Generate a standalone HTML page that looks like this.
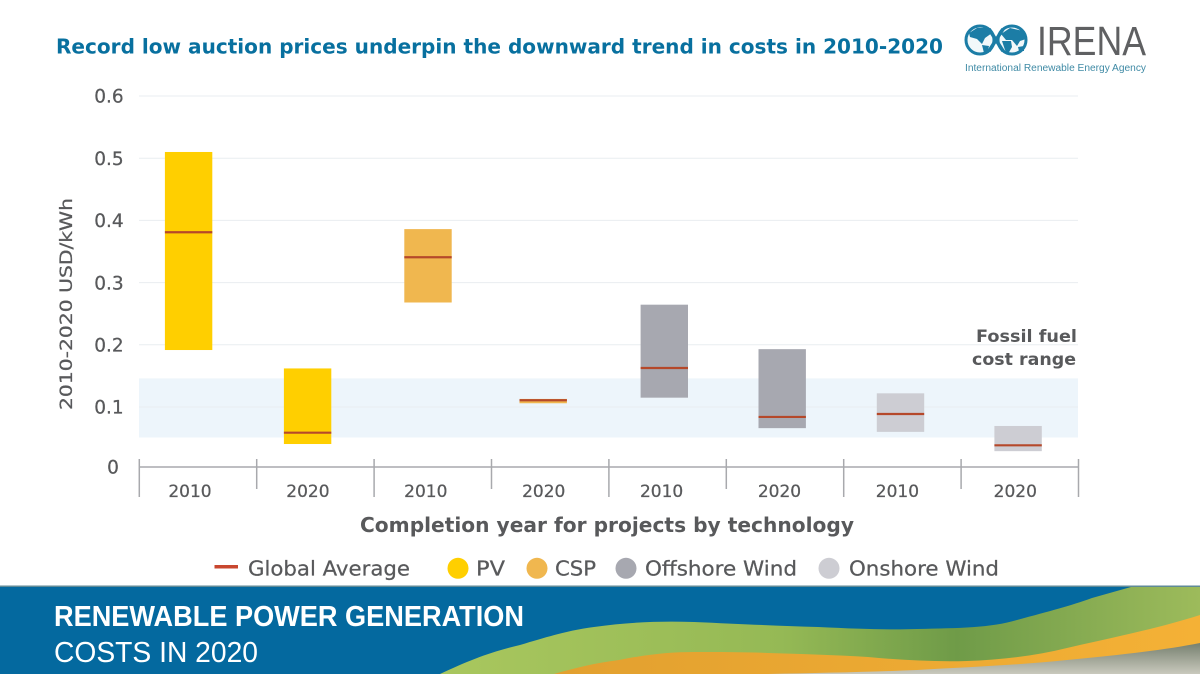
<!DOCTYPE html>
<html lang="en">
<head>
<meta charset="utf-8">
<title>Record low auction prices</title>
<style>
html,body{margin:0;padding:0;background:#fff;}
svg{display:block;}
text{font-family:"DejaVu Sans","Liberation Sans",sans-serif;}
.narrow{font-family:"Liberation Sans",sans-serif;}
.med{stroke:#58595b;stroke-width:0.25px;}
</style>
</head>
<body>
<svg id="chart" xmlns="http://www.w3.org/2000/svg" width="1200" height="675" viewBox="0 0 1200 675">
  <defs>
    <linearGradient id="greenGrad" x1="0" x2="1" y1="0" y2="0">
      <stop offset="0" stop-color="#a9c75e"/><stop offset="0.45" stop-color="#95b955"/>
      <stop offset="0.68" stop-color="#6f9b48"/><stop offset="1" stop-color="#9dbb5b"/>
    </linearGradient>
    <linearGradient id="orangeGrad" x1="0" x2="1" y1="0" y2="0">
      <stop offset="0" stop-color="#e2a02f"/><stop offset="1" stop-color="#f4b136"/>
    </linearGradient>
    <linearGradient id="grayGrad" x1="0" x2="0" y1="0" y2="1">
      <stop offset="0" stop-color="#76806f"/><stop offset="1" stop-color="#c9c9bd"/>
    </linearGradient>
  </defs>

  <text x="56" y="53.5" font-size="20.5" font-weight="700" fill="#08709f" textLength="887" lengthAdjust="spacingAndGlyphs">Record low auction prices underpin the downward trend in costs in 2010-2020</text>

  <g>
    <circle cx="980" cy="40" r="14" fill="#f2f8fa" stroke="#1c7da6" stroke-width="3"/>
    <circle cx="1012" cy="40" r="14" fill="#f2f8fa" stroke="#1c7da6" stroke-width="3"/>
    <path d="M989 29 L1003 51 M989 51 L1003 29" stroke="#1c7da6" stroke-width="3.5" fill="none"/>
    <path d="M969 33 L977 28 L990 28 L992 33 L985 38 L982 44 L977 39 L970 37 Z" fill="#1c7da6"/>
    <path d="M982 45 L989 46 L987 54 L984 53 Z" fill="#1c7da6"/>
    <path d="M1001 34 L1010 28 L1023 31 L1026 39 L1020 41 L1017 46 L1012 40 L1006 40 Z" fill="#1c7da6"/>
    <path d="M1002 41 L1011 41 L1012 47 L1008 54 L1005 50 Z" fill="#1c7da6"/>
    <path d="M1018 47 L1024 46 L1024 51 L1019 51 Z" fill="#1c7da6"/>
    <text class="narrow" x="1037" y="55" font-size="41" fill="#5f6062" textLength="109" lengthAdjust="spacingAndGlyphs">IRENA</text>
    <text class="narrow" x="965" y="71" font-size="10" fill="#3f8aa5" textLength="181" lengthAdjust="spacingAndGlyphs">International Renewable Energy Agency</text>
  </g>

  <rect id="fossil" fill="#edf5fb"/>
  <g id="grid"></g>
  <g id="marks"></g>
  <g id="axis"></g>
  <g id="yticks"></g>

  <text class="med" transform="translate(72,410) rotate(-90)" font-size="17" fill="#58595b" textLength="212" lengthAdjust="spacingAndGlyphs">2010-2020 USD/kWh</text>
  <text x="360" y="532" font-size="20" font-weight="700" fill="#58595b" textLength="494" lengthAdjust="spacingAndGlyphs">Completion year for projects by technology</text>

  <text x="976" y="342" font-size="17" font-weight="700" fill="#58595b" textLength="101" lengthAdjust="spacingAndGlyphs">Fossil fuel</text>
  <text x="972" y="365" font-size="17" font-weight="700" fill="#58595b" textLength="104" lengthAdjust="spacingAndGlyphs">cost range</text>

  <g>
    <line x1="214.5" x2="238" y1="566.7" y2="566.7" stroke="#c8472f" stroke-width="3.5"/>
    <text class="med" x="248" y="575.5" font-size="20" fill="#58595b" textLength="162" lengthAdjust="spacingAndGlyphs">Global Average</text>
    <circle cx="458" cy="568.3" r="10.5" fill="#ffcf00"/>
    <text class="med" x="476" y="575.5" font-size="20" fill="#58595b" textLength="29" lengthAdjust="spacingAndGlyphs">PV</text>
    <circle cx="537" cy="568.3" r="10.5" fill="#f0b74f"/>
    <text class="med" x="555" y="575.5" font-size="20" fill="#58595b" textLength="41" lengthAdjust="spacingAndGlyphs">CSP</text>
    <circle cx="626" cy="568.3" r="10.5" fill="#a7a8b0"/>
    <text class="med" x="645" y="575.5" font-size="20" fill="#58595b" textLength="152" lengthAdjust="spacingAndGlyphs">Offshore Wind</text>
    <circle cx="829" cy="568.3" r="10.5" fill="#cdcdd3"/>
    <text class="med" x="849" y="575.5" font-size="20" fill="#58595b" textLength="150" lengthAdjust="spacingAndGlyphs">Onshore Wind</text>
  </g>

  <g>
    <rect x="0" y="586" width="1200" height="88" fill="#04699f"/>
    <rect x="0" y="585.5" width="1200" height="1.5" fill="#5f8a97"/>
    <path d="M440 674 C470 660 490 652 520 645 C550 636 570 630 594 627 C630 622 660 621 694 622 C740 624 780 626 818 627 C860 629 890 630 917 629 C960 628 990 628 1017 620 C1050 611 1070 606 1092 598 L1131 587 L1200 587 L1200 674 Z" fill="url(#greenGrad)"/>
    <path d="M554 674 C575 668 595 663 619 660 C650 654 670 652 694 652 C720 652 745 652 768 653 C800 654 835 655 868 657 C900 660 935 662 967 661 C1000 660 1035 656 1067 648 C1110 638 1160 628 1200 615 L1200 674 Z" fill="url(#orangeGrad)"/>
    <path d="M768 674 C820 673 870 672 917 670 C970 667 1020 665 1067 660 C1120 655 1165 650 1200 643 L1200 674 Z" fill="url(#grayGrad)"/>
    <text class="narrow" x="54" y="626" font-size="29" font-weight="700" fill="#ffffff" textLength="470" lengthAdjust="spacingAndGlyphs">RENEWABLE POWER GENERATION</text>
    <text class="narrow" x="54" y="662" font-size="29" fill="#ffffff" textLength="204" lengthAdjust="spacingAndGlyphs">COSTS IN 2020</text>
  </g>
</svg>

<script>
var categories = ["PV 2010", "PV 2020", "CSP 2010", "CSP 2020", "Offshore 2010", "Offshore 2020", "Onshore 2010", "Onshore 2020"];
var yearLabels = ["2010", "2020", "2010", "2020", "2010", "2020", "2010", "2020"];
var technologies = ["pv", "pv", "csp", "csp", "offshore", "offshore", "onshore", "onshore"];
var highValues = [0.51, 0.162, 0.386, 0.113, 0.2645, 0.193, 0.122, 0.0695];
var lowValues = [0.1916, 0.0405, 0.268, 0.106, 0.115, 0.066, 0.06, 0.029];
var averageValues = [0.381, 0.0587, 0.3407, 0.1108, 0.1627, 0.084, 0.0887, 0.0384];
var yTickValues = [0, 0.1, 0.2, 0.3, 0.4, 0.5, 0.6];
var yTickLabels = ["0", "0.1", "0.2", "0.3", "0.4", "0.5", "0.6"];
var fossilRange = [0.051, 0.146];

var NS = "http://www.w3.org/2000/svg";
var techColors = { pv: "#ffcf00", csp: "#f0b74f", offshore: "#a7a8b0", onshore: "#cdcdd3" };
var barNudge = [0, 0.5, 2.4, -0.9, 1.7, 1.1, 0.9, 0];
var axisY = 467;

function yScale(v) { return 469.2 - v * 622; }
function barCenter(i) { return 188.6 + 118.5 * i + barNudge[i]; }
function labelCenter(i) { return 190 + 117.9 * i; }
function tickX(i) { return 139.3 + 117.4 * i; }

function make(tag, parent) {
  var el = document.createElementNS(NS, tag);
  parent.appendChild(el);
  return el;
}

var fossil = document.getElementById("fossil");
fossil.setAttribute("x", 139);
fossil.setAttribute("width", 939);
fossil.setAttribute("y", yScale(fossilRange[1]));
fossil.setAttribute("height", yScale(fossilRange[0]) - yScale(fossilRange[1]));

var grid = document.getElementById("grid");
var yticks = document.getElementById("yticks");
yTickValues.forEach(function (v, i) {
  if (v > 0) {
    var g = make("line", grid);
    
    
    g.setAttribute("x1", 139);
    g.setAttribute("x2", 1078);
    g.setAttribute("y1", yScale(v));
    g.setAttribute("y2", yScale(v));
    g.setAttribute("stroke", "#e9edf0");
    g.setAttribute("stroke-width", 1);
  }
  var t = make("text", yticks);
  
  
  t.setAttribute("class", "med");
  t.setAttribute("x", v === 0 ? 113 : 109);
  t.setAttribute("y", (v === 0 ? axisY : yScale(v)) + 6.7);
  t.setAttribute("text-anchor", "middle");
  t.setAttribute("font-size", 18.5);
  t.setAttribute("fill", "#58595b");
  t.textContent = yTickLabels[i];
});

var marks = document.getElementById("marks");
categories.forEach(function (c, i) {
  var top = yScale(highValues[i]);
  var bottom = yScale(lowValues[i]);
  var cx = barCenter(i);
  var r = make("rect", marks);
  
  
  r.setAttribute("x", cx - 23.7);
  r.setAttribute("width", 47.4);
  r.setAttribute("y", top);
  r.setAttribute("height", bottom - top);
  r.setAttribute("fill", techColors[technologies[i]]);
  var l = make("line", marks);
  
  
  l.setAttribute("x1", cx - 23.7);
  l.setAttribute("x2", cx + 23.7);
  l.setAttribute("y1", yScale(averageValues[i]));
  l.setAttribute("y2", yScale(averageValues[i]));
  l.setAttribute("stroke", "#b5482a");
  l.setAttribute("stroke-width", 2.2);
});

var axis = document.getElementById("axis");
var base = make("line", axis);


base.setAttribute("x1", 139);
base.setAttribute("x2", 1078);
base.setAttribute("y1", axisY);
base.setAttribute("y2", axisY);
base.setAttribute("stroke", "#a8a9ad");
base.setAttribute("stroke-width", 1.5);

for (var k = 0; k <= categories.length; k++) {
  var tick = make("line", axis);
  
  
  tick.setAttribute("x1", tickX(k));
  tick.setAttribute("x2", tickX(k));
  tick.setAttribute("y1", 459);
  tick.setAttribute("y2", k % 2 === 0 ? 497 : 489);
  tick.setAttribute("stroke", "#a8a9ad");
  tick.setAttribute("stroke-width", 1.5);
}

yearLabels.forEach(function (label, i) {
  var t = make("text", axis);
  
  
  t.setAttribute("class", "med");
  t.setAttribute("x", labelCenter(i));
  t.setAttribute("y", 497);
  t.setAttribute("text-anchor", "middle");
  t.setAttribute("font-size", 17);
  t.setAttribute("fill", "#58595b");
  t.textContent = label;
});
</script>
</body>
</html>
